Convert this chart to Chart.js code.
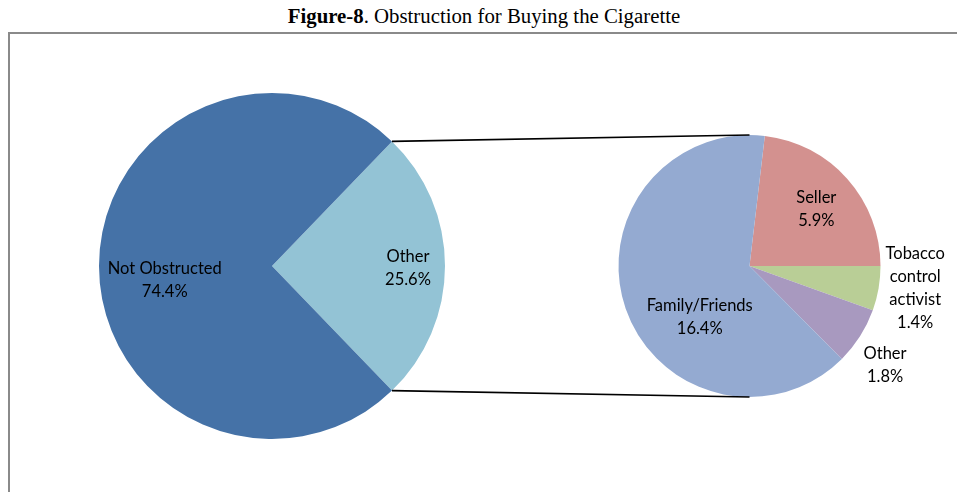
<!DOCTYPE html>
<html><head><meta charset="utf-8">
<script src="https://cdn.jsdelivr.net/npm/chart.js@4"></script>
<style>
html,body{margin:0;padding:0;background:#fff;}
#wrap{position:relative;width:957px;height:492px;overflow:hidden;}
#title{position:absolute;left:0;width:968px;top:4px;text-align:center;font-family:"Liberation Serif","Times New Roman",serif;font-size:20.8px;color:#000;white-space:nowrap;}
#box{position:absolute;left:8px;top:32px;width:960px;height:480px;border-left:2px solid #8a8a8a;border-top:2px solid #8a8a8a;}
canvas{position:absolute;left:0;top:0;}
</style></head>
<body><div id="wrap">
<div id="title"><b>Figure-8</b>. Obstruction for Buying the Cigarette</div>
<div id="box"></div>
<canvas id="c1" width="957" height="492"></canvas>
<canvas id="c2" width="957" height="492"></canvas>
</div>
<script>
// Main pie
const mainLabels = ["Other", "Not Obstructed"];
const mainValues = [25.6, 74.4];
const mainColors = ["#93c3d5", "#4572a7"];
// Breakdown of "Other"
const subLabels = ["Seller", "Tobacco control activist", "Other", "Family/Friends"];
const subValues = [5.9, 1.4, 1.8, 16.4];
const subColors = ["#d3918f", "#b9ce96", "#a899bf", "#94aad1"];

const FONT = '"Lato","Open Sans",sans-serif';
// label placement (in units of pie radius from centre) and text lines
const mainLabelPos = [[0.786, 0.015], [-0.62, 0.08]];
const subLabelPos = [[0.51, -0.435], [1.265, 0.17], [1.035, 0.76], [-0.38, 0.39]];
const subLabelLines = [["Seller"], ["Tobacco", "control", "activist"], ["Other"], ["Family/Friends"]];

function drawLabels(chart, pos, linesArr, values){
  const ctx = chart.ctx, arc = chart.getDatasetMeta(0).data[0];
  const cx = arc.x, cy = arc.y, R = arc.outerRadius;
  ctx.save();
  ctx.font = '16.5px ' + FONT;
  ctx.fillStyle = '#000';
  ctx.textAlign = 'center';
  ctx.textBaseline = 'middle';
  const lh = 23;
  pos.forEach((p, i) => {
    const lines = linesArr[i].concat([values[i].toFixed(1) + '%']);
    const x = cx + p[0]*R, y = cy + p[1]*R;
    const y0 = y - (lines.length-1)*lh/2;
    lines.forEach((t, k) => ctx.fillText(t, x, y0 + k*lh));
  });
  ctx.restore();
}

const chart1 = new Chart(document.getElementById('c1'), {
  type: 'pie',
  data: { labels: mainLabels, datasets: [{ data: mainValues, backgroundColor: mainColors, borderWidth: 0 }] },
  options: {
    responsive: false, animation: false, rotation: 90 - 360*mainValues[0]/2/100,
    layout: { padding: { left: 99, right: 512, top: 93, bottom: 53 } },
    plugins: { legend: { display: false }, tooltip: { enabled: false } }
  },
  plugins: [{ id: 'lbl1', afterDraw(c){ drawLabels(c, mainLabelPos, [["Other"],["Not Obstructed"]], mainValues); } }]
});

const subTotal = subValues.reduce((a,b)=>a+b,0);
const chart2 = new Chart(document.getElementById('c2'), {
  type: 'pie',
  data: { labels: subLabels, datasets: [{ data: subValues, backgroundColor: subColors, borderWidth: 0 }] },
  options: {
    responsive: false, animation: false, rotation: 90 - 360*subValues[0]/subTotal,
    layout: { padding: { left: 618, right: 76, top: 135, bottom: 95 } },
    plugins: { legend: { display: false }, tooltip: { enabled: false } }
  },
  plugins: [{ id: 'lbl2', afterDraw(c){
    // connector lines from the "Other" slice of the main pie to the secondary pie
    const a = chart1.getDatasetMeta(0).data[0];
    const b = c.getDatasetMeta(0).data[0];
    const ctx = c.ctx;
    ctx.save();
    ctx.strokeStyle = '#000'; ctx.lineWidth = 1.6;
    ctx.beginPath();
    ctx.moveTo(a.x + a.outerRadius*Math.cos(a.startAngle), a.y + a.outerRadius*Math.sin(a.startAngle));
    ctx.lineTo(b.x, b.y - b.outerRadius);
    ctx.moveTo(a.x + a.outerRadius*Math.cos(a.endAngle), a.y + a.outerRadius*Math.sin(a.endAngle));
    ctx.lineTo(b.x, b.y + b.outerRadius);
    ctx.stroke();
    ctx.restore();
    drawLabels(c, subLabelPos, subLabelLines, subValues);
  } }]
});
</script>
</body></html>
